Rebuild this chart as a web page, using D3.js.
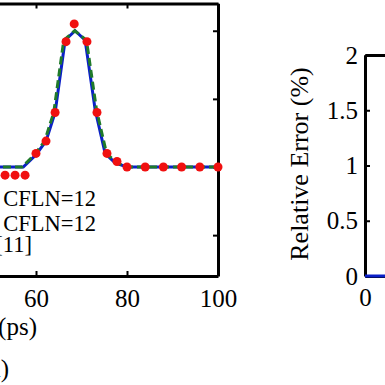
<!DOCTYPE html>
<html>
<head>
<meta charset="utf-8">
<script src="https://cdn.jsdelivr.net/npm/d3@7"></script>
<style>
  body { margin: 0; background: #fff; }
  svg { display: block; }
  .axis path, .axis line { stroke: #000; }
  .axis path { stroke-width: 3; }
  .axis line { stroke-width: 2; }
  .axis text { font-family: 'Liberation Serif', serif; font-size: 25px; fill: #000; }
</style>
</head>
<body>
<script>
// left panel: pulse in time (ps)
const blueTime = [0, 57.2, 60, 62.2, 64.2, 66.4, 68.6, 70.8, 73, 75.2, 77.4, 80, 100];
const blueVals = [0, 0, 0.09, 0.19, 0.40, 0.93, 1.0, 0.93, 0.42, 0.10, 0.03, 0, 0];
const greenTime = [0, 56.9, 59.7, 61.9, 63.9, 66.1, 68.5, 71.1, 73.3, 75.5, 77.7, 80.3, 100];
const greenVals = [0, 0, 0.09, 0.19, 0.40, 0.93, 1.0, 0.93, 0.42, 0.10, 0.03, 0, 0];
const refTime = [53.2, 55.4, 57.6, 60, 62.2, 64.2, 66.6, 68.4, 71.2, 73.4, 75.6, 77.8, 80, 84, 88, 92, 96, 100];
const refVals = [-0.06, -0.06, -0.06, 0.10, 0.19, 0.40, 0.92, 1.05, 0.92, 0.40, 0.10, 0.04, 0, 0, 0, 0, 0, 0];
const leftXTicks = [60, 80, 100];
const leftYTicks = [-0.5, 0, 0.5, 1];
const legendLabels = ['LOD-FDTD, CFLN=12', 'ADI-FDTD, CFLN=12', 'Ref. [11]'];

// right panel: relative error
const errX = [0, 100];
const errVals = [0, 0];
const rightYTicks = [0, 0.5, 1, 1.5, 2];
const rightXTicks = [0];

const W = 385, H = 385;
const svg = d3.select('body').append('svg').attr('width', W).attr('height', H);

// ---- left panel
const xL = d3.scaleLinear().domain([0, 100]).range([-237, 218]);
const yL = d3.scaleLinear().domain([-0.8, 1.2]).range([276, 3.5]);
const gL = svg.append('g');

gL.append('g').attr('class', 'axis')
  .attr('transform', `translate(0,${yL.range()[0]})`)
  .call(d3.axisBottom(xL).tickValues(leftXTicks).tickSizeInner(-5).tickSizeOuter(0).tickPadding(13));
gL.append('g').attr('class', 'axis')
  .attr('transform', `translate(0,${yL.range()[1]})`)
  .call(d3.axisTop(xL).tickValues(leftXTicks).tickSizeInner(-5).tickSizeOuter(0).tickFormat(''));
gL.append('g').attr('class', 'axis')
  .attr('transform', `translate(${xL(100)},0)`)
  .call(d3.axisRight(yL).tickValues(leftYTicks).tickSizeInner(-5).tickSizeOuter(0).tickFormat(''));

const lineL = d3.line().x(d => xL(d[0])).y(d => yL(d[1]));
gL.append('path')
  .datum(blueTime.map((t, i) => [t, blueVals[i]]))
  .attr('d', lineL)
  .attr('fill', 'none').attr('stroke', '#0a1fc8').attr('stroke-width', 3);
gL.append('path')
  .datum(greenTime.map((t, i) => [t, greenVals[i]]))
  .attr('d', lineL)
  .attr('fill', 'none').attr('stroke', '#1f7a2a').attr('stroke-width', 3)
  .attr('stroke-dasharray', '8,4');
gL.append('g').selectAll('circle')
  .data(refTime.map((t, i) => [t, refVals[i]]))
  .join('circle')
    .attr('cx', d => xL(d[0]))
    .attr('cy', d => yL(d[1]))
    .attr('r', 4.5)
    .attr('fill', '#f01010');

// legend text (left part falls off the crop)
const legendBase = [206, 231, 252];
const legendEnd = [96, 96, 32];
gL.append('g')
  .attr('font-family', 'Liberation Serif, serif')
  .attr('font-size', 22.5)
  .selectAll('text')
  .data(legendLabels)
  .join('text')
    .attr('x', (d, i) => legendEnd[i])
    .attr('y', (d, i) => legendBase[i])
    .attr('text-anchor', 'end')
    .text(d => d);

gL.append('text')
  .attr('x', 37).attr('y', 335)
  .attr('text-anchor', 'end')
  .attr('font-family', 'Liberation Serif, serif')
  .attr('font-size', 25)
  .text('Time (ps)');
gL.append('text')
  .attr('x', 9).attr('y', 377)
  .attr('text-anchor', 'end')
  .attr('font-family', 'Liberation Serif, serif')
  .attr('font-size', 25)
  .text('(a)');

// ---- right panel
const xR = d3.scaleLinear().domain([0, 100]).range([365, 820]);
const yR = d3.scaleLinear().domain([0, 2]).range([276, 55]);
const gR = svg.append('g');

gR.append('g').attr('class', 'axis')
  .attr('transform', `translate(${xR(0)},0)`)
  .call(d3.axisLeft(yR).tickValues(rightYTicks).tickSizeInner(-5).tickSizeOuter(0).tickPadding(7)
    .tickFormat(d => String(d)));
gR.append('g').attr('class', 'axis')
  .attr('transform', `translate(0,${yR.range()[0]})`)
  .call(d3.axisBottom(xR).tickValues(rightXTicks).tickSizeInner(-5).tickSizeOuter(0).tickPadding(12));
gR.append('g').attr('class', 'axis')
  .attr('transform', `translate(0,${yR.range()[1]})`)
  .call(d3.axisTop(xR).tickValues(rightXTicks).tickSizeInner(-5).tickSizeOuter(0).tickFormat(''));

gR.append('path')
  .datum(errX.map((t, i) => [t, errVals[i]]))
  .attr('d', d3.line().x(d => xR(d[0])).y(d => yR(d[1])))
  .attr('fill', 'none').attr('stroke', '#0a1fc8').attr('stroke-width', 3);

gR.append('text')
  .attr('transform', 'translate(308,164) rotate(-90)')
  .attr('text-anchor', 'middle')
  .attr('font-family', 'Liberation Serif, serif')
  .attr('font-size', 26)
  .text('Relative Error (%)');
</script>
</body>
</html>
